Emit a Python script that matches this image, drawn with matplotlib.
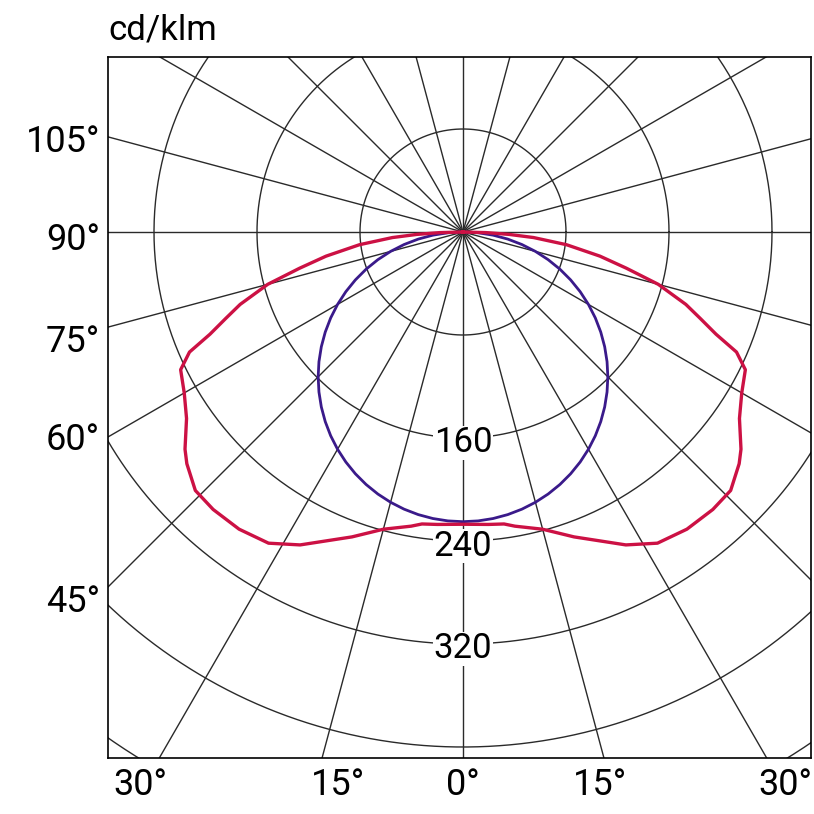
import numpy as np
import matplotlib
matplotlib.use("Agg")
import matplotlib.pyplot as plt

# data
red_angles = [0, 5, 8, 10, 15, 20, 27.5, 32, 37, 42, 46, 50, 52, 56, 60, 64, 66.3, 68, 70, 72, 75, 77.5, 80, 83, 85.5, 87, 88.5, 90]
red_values = [227, 228, 229, 232, 239, 252, 274, 285, 289, 290, 289, 280, 274, 259, 250, 244, 232, 212, 196, 182, 157, 130, 108, 81, 55, 36, 18, 0]
blue_peak = 225
blue_angles = list(range(0, 91, 3))
blue_values = [blue_peak * np.cos(np.radians(a)) for a in blue_angles]
ring_values = [80, 160, 240, 320, 400, 480, 560]
ring_labels = ["160", "240", "320"]
left_labels = ["105°", "90°", "75°", "60°", "45°"]
bottom_labels = ["30°", "15°", "0°", "15°", "30°"]

plt.rcParams['font.family'] = ['Roboto', 'DejaVu Sans']
W = H = 814
fig = plt.figure(figsize=(W/100, H/100), dpi=100)
ax = fig.add_axes([108/W, 1-758/H, (811-108)/W, (758-57)/H])
s = 80/103
ax.set_xlim((108-463)*s, (811-463)*s)
ax.set_ylim(-(758-232)*s, (232-57)*s)
ax.set_aspect('auto')
ax.set_xticks([]); ax.set_yticks([])
for sp in ax.spines.values():
    sp.set_linewidth(1.2)

t = np.linspace(0, 2*np.pi, 600)
for r in ring_values:
    ax.plot(r*np.cos(t), r*np.sin(t), color='#2a2a2a', lw=1.0)
for a in range(0, 360, 15):
    ra = np.radians(a)
    ax.plot([0, 800*np.cos(ra)], [0, 800*np.sin(ra)], color='#2a2a2a', lw=1.0)

def curve(angles, vals):
    a = np.radians(np.array(angles)); v = np.array(vals)
    x = v*np.sin(a); y = -v*np.cos(a)
    return np.concatenate([-x[::-1], x[1:]]), np.concatenate([y[::-1], y[1:]])

bx, by = curve(blue_angles, blue_values)
ax.plot(bx, by, color='#3a1a8a', lw=2, solid_joinstyle='round')
rx, ry = curve(red_angles, red_values)
ax.plot(rx, ry, color='#cc1144', lw=2.4, solid_joinstyle='round')

for lab in ring_labels:
    v = float(lab)
    ax.text(0, -v - 5*s, lab, ha='center', va='center', fontsize=25,
            bbox=dict(facecolor='white', edgecolor='none', pad=0.5))

fig.text(108/W, 1-30/H, "cd/klm", fontsize=25, ha='left', va='center')
for lab, y in zip(left_labels, [142, 240, 342, 440, 602]):
    fig.text(100/W, 1-y/H, lab, fontsize=26, ha='right', va='center')
for lab, x in zip(bottom_labels, [140, 338, 463, 600, 785]):
    fig.text(x/W, 1-785/H, lab, fontsize=26, ha='center', va='center')

fig.savefig("out.png", dpi=100)
